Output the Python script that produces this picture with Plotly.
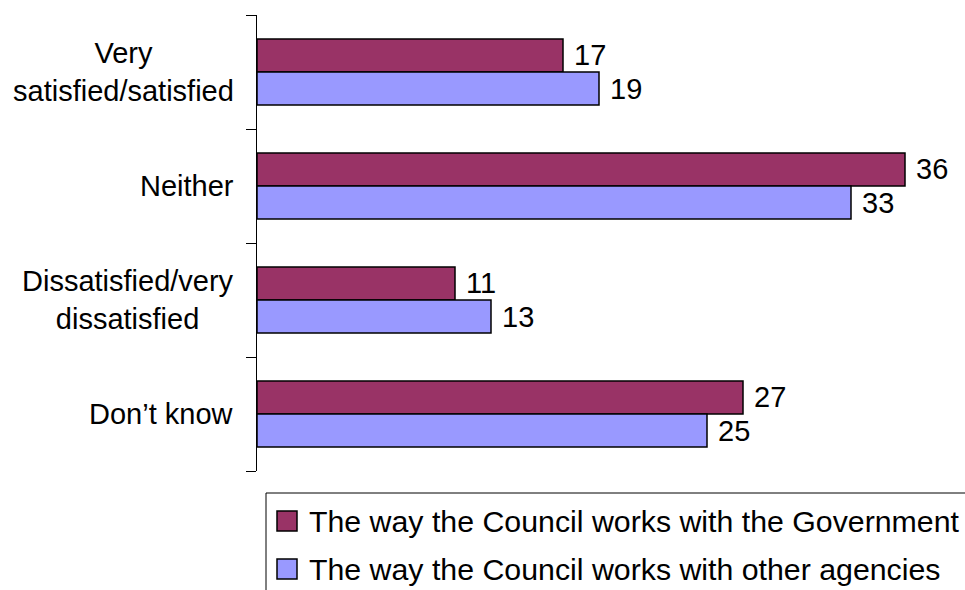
import plotly.graph_objects as go

# Survey responses (%)
categories = ["Very<br>satisfied/satisfied", "Neither", "Dissatisfied/very<br>dissatisfied", "Don\u2019t know"]
series_names = ["The way the Council works with the Government",
                "The way the Council works with other agencies"]
government = [17, 36, 11, 27]
agencies = [19, 33, 13, 25]
colors = ["#993366", "#9999FF"]

W, H = 965, 590
ML, MR, MT, MB = 257, 6, 15, 119
PW, PH = W - ML - MR, H - MT - MB
FONT = "Liberation Sans, Arial, sans-serif"

positions = list(range(len(categories)))
boundaries = [p - 0.5 for p in positions] + [positions[-1] + 0.5]


def px_x(px):
    return (px - ML) / PW


def px_y(py):
    return (H - MB - py) / PH


fig = go.Figure()
for name, vals, col in zip(series_names, [government, agencies], colors):
    fig.add_trace(go.Bar(
        y=positions, x=vals, name=name, orientation="h",
        marker=dict(color=col, line=dict(color="black", width=1.5)),
        text=vals, texttemplate="\u00a0%{x}", textposition="outside",
        constraintext="none", cliponaxis=False,
        textfont=dict(family=FONT, size=29, color="black"),
        showlegend=False,
    ))

# Category labels, centred multi-line text right-aligned to the axis
annotations = []
for pos, cat in zip(positions, categories):
    annotations.append(dict(
        x=0, xref="paper", y=pos, yref="y", text=cat, showarrow=False,
        xanchor="right", yanchor="middle", align="center", xshift=-21,
        font=dict(family=FONT, size=29, color="black"),
    ))

# Legend box with swatches
shapes = [dict(type="rect", xref="paper", yref="paper",
               x0=px_x(266), x1=px_x(990), y0=px_y(620), y1=px_y(493),
               line=dict(color="black", width=1), fillcolor="rgba(0,0,0,0)")]
row_centers = [521, 569]
for name, col, cy in zip(series_names, colors, row_centers):
    shapes.append(dict(type="rect", xref="paper", yref="paper",
                       x0=px_x(277), x1=px_x(297), y0=px_y(cy + 10), y1=px_y(cy - 10),
                       line=dict(color="black", width=1.5), fillcolor=col))
    annotations.append(dict(
        x=px_x(307), xref="paper", y=px_y(cy), yref="paper", text=name,
        showarrow=False, xanchor="left", yanchor="middle",
        font=dict(family=FONT, size=30.3, color="black"),
    ))

fig.update_layout(
    width=W, height=H,
    margin=dict(l=ML, r=MR, t=MT, b=MB, pad=0),
    paper_bgcolor="white", plot_bgcolor="white",
    barmode="group", bargap=0.42, bargroupgap=0,
    showlegend=False,
    annotations=annotations, shapes=shapes,
    xaxis=dict(range=[0, 39], visible=False, fixedrange=True),
    yaxis=dict(
        range=[boundaries[-1], boundaries[0]], showline=True, linecolor="black",
        linewidth=1, ticks="outside", tickmode="array", tickvals=boundaries,
        ticklen=10, tickcolor="black", tickwidth=1, showticklabels=False,
        showgrid=False, zeroline=False, fixedrange=True,
    ),
)

fig.write_html("out.html")
